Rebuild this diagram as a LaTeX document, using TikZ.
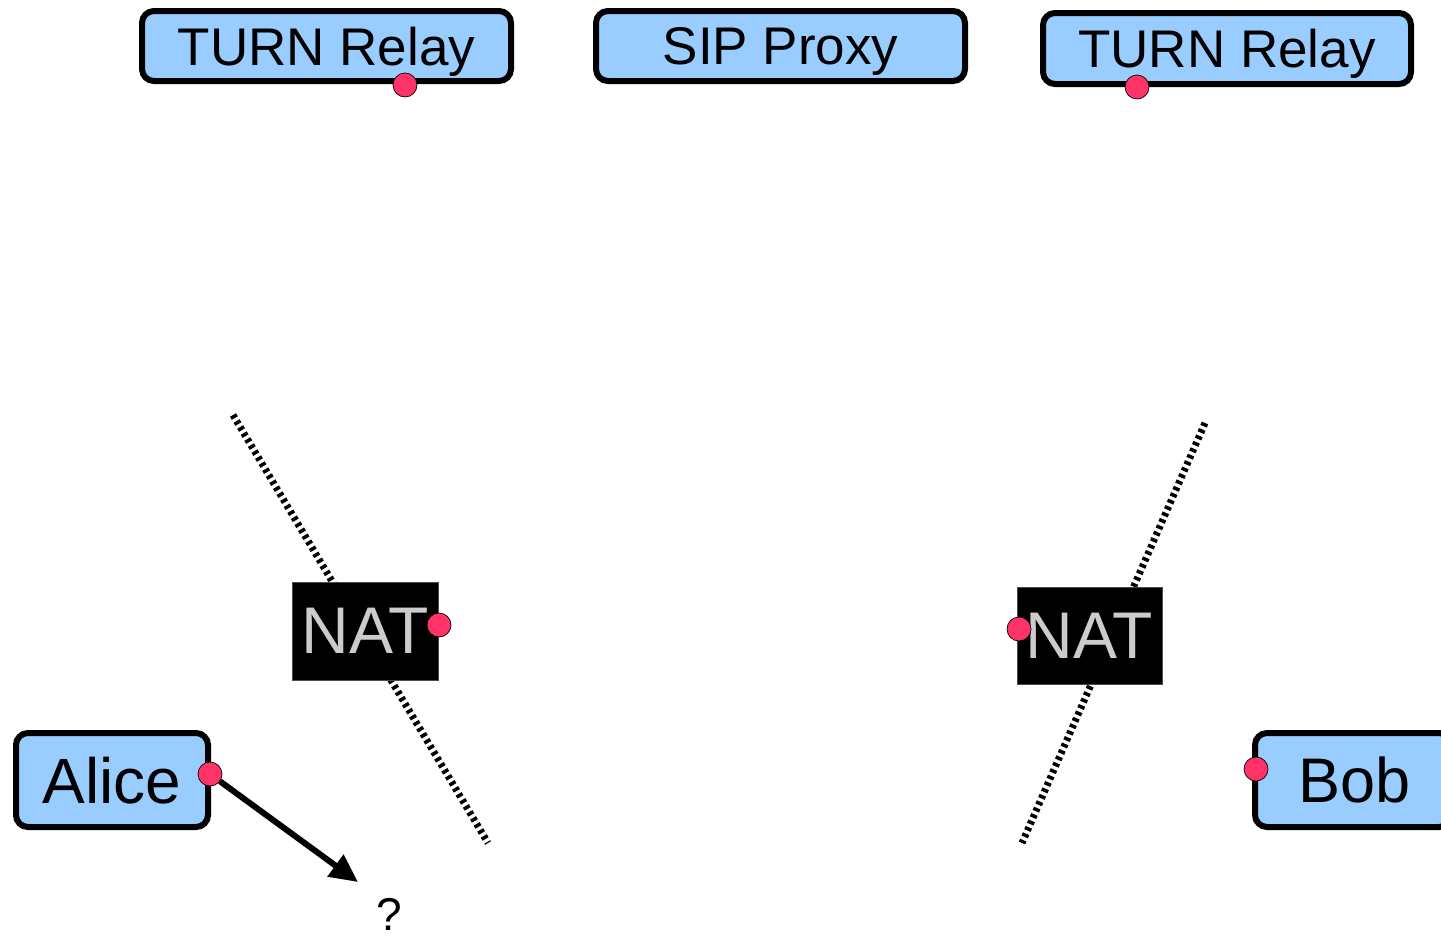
\documentclass[tikz,border=0pt]{standalone}
\usepackage{fontspec}
\setmainfont{Liberation Sans}
\usetikzlibrary{arrows.meta}
\definecolor{boxblue}{HTML}{99CCFF}
\definecolor{portred}{HTML}{FF3366}
\definecolor{natgray}{HTML}{CCCCCC}
\tikzset{
  hostbox/.style={draw=black, line width=6pt, rounded corners=12pt, fill=boxblue, inner sep=0pt, text depth=0pt, anchor=center},
  natbox/.style={fill=black, draw=black!70, line width=0.5pt, inner sep=0pt, text depth=0pt, text=natgray, anchor=center},
  port/.style={circle, fill=portred, draw=black, line width=0.7pt, minimum size=24pt, inner sep=0pt},
  border/.style={line width=7pt, dash pattern=on 3.5pt off 3.5pt},
  flow/.style={line width=6pt, -{Triangle[length=28pt,width=26pt]}}
}
\begin{document}
\begin{tikzpicture}[x=1pt, y=-1pt]
\useasboundingbox (0,0) rectangle (1441,937);
\clip (0,0) rectangle (1441,937);

% NAT boundaries (drawn first so the NAT boxes sit on top)
\coordinate (bl1) at (233,415);
\coordinate (bl2) at (488,843);
\coordinate (br1) at (1205,423);
\coordinate (br2) at (1022,843);
\draw[border] (bl1) -- (bl2);
\draw[border] (br1) -- (br2);

% servers
\node[hostbox, minimum width=369pt, minimum height=70pt, font=\fontsize{53}{60}\selectfont] (turnL) at (326.5,46) {TURN Relay};
\node[hostbox, minimum width=369pt, minimum height=70pt, font=\fontsize{53}{60}\selectfont] (sip) at (780.5,46) {SIP Proxy};
\node[hostbox, minimum width=368pt, minimum height=71pt, font=\fontsize{53}{60}\selectfont] (turnR) at (1227,48.5) {TURN Relay};

% NAT devices
\node[natbox, minimum width=146pt, minimum height=98pt, font=\fontsize{66}{70}\selectfont] (natL) at (365,631) {NAT};
\node[natbox, minimum width=145pt, minimum height=97pt, font=\fontsize{66}{70}\selectfont] (natR) at (1089.5,635.5) {NAT};

% endpoints
\node[hostbox, minimum width=192pt, minimum height=94pt, font=\fontsize{64}{70}\selectfont] (alice) at (112,780) {Alice};
\node[hostbox, minimum width=196pt, minimum height=94pt, font=\fontsize{63}{70}\selectfont, text width=190pt, align=left] (bob) at (1353,780) {\hspace*{40pt}Bob};

% ports
\node[port] (pTurnL) at (405,85) {};
\node[port] (pTurnR) at (1137,87) {};
\node[port] (pNatL) at (439,625) {};
\node[port] (pNatR) at (1019,629) {};
\node[port] (pAlice) at (210,774) {};
\node[port] (pBob) at (1256,769) {};

% unknown destination
\node[font=\fontsize{46}{50}\selectfont, inner sep=0pt, anchor=base] (dest) at (389.5,930) {?};
\coordinate (aim) at (358,882);
\draw[flow] (pAlice) -- (aim);
\end{tikzpicture}
\end{document}
